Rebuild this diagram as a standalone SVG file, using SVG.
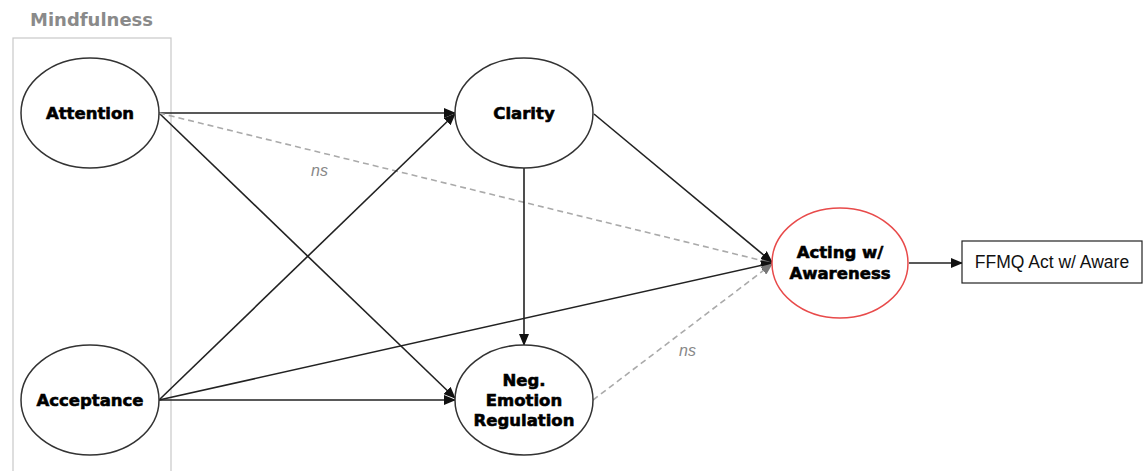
<svg xmlns="http://www.w3.org/2000/svg" width="1146" height="471" viewBox="0 0 1146 471">
  <style>
    .node ellipse { fill: #fff; stroke: #333; stroke-width: 1.5; }
    .label { font-family: "DejaVu Sans", Verdana, sans-serif; font-weight: bold; font-size: 16.5px; fill: #000; stroke: #000; stroke-width: 0.6; text-anchor: middle; }
    .path { stroke: #222; stroke-width: 1.6; fill: none; marker-end: url(#arrow); }
    .path.ns { stroke: #aaa; stroke-dasharray: 6 4; marker-end: url(#arrowGray); }
    .ns-label { font-family: "Liberation Sans", Arial, sans-serif; font-style: italic; font-size: 16px; fill: #888; }
  </style>
  <defs>
    <marker id="arrow" markerWidth="12" markerHeight="10" refX="11" refY="5" orient="auto" markerUnits="userSpaceOnUse">
      <path d="M0,0 L12,5 L0,10 z" fill="#111"/>
    </marker>
    <marker id="arrowGray" markerWidth="12" markerHeight="10" refX="11" refY="5" orient="auto" markerUnits="userSpaceOnUse">
      <path d="M0,0 L12,5 L0,10 z" fill="#777"/>
    </marker>
  </defs>

  <rect width="1146" height="471" fill="#fff"/>

  <!-- Mindfulness grouping frame -->
  <g id="mindfulness">
    <rect x="13" y="38" width="158" height="440" fill="none" stroke="#c8c8c8" stroke-width="1.2"/>
    <text x="30" y="26" font-family="DejaVu Sans, sans-serif" font-weight="bold" font-size="18" fill="#8a8a8a">Mindfulness</text>
  </g>

  <!-- Paths -->
  <g id="connectors">
    <line class="path" x1="159" y1="113" x2="455" y2="113"/>
    <line class="path" x1="159" y1="113" x2="455" y2="398"/>
    <line class="path ns" x1="159" y1="113" x2="772" y2="263"/>
    <line class="path" x1="159" y1="400" x2="455" y2="114"/>
    <line class="path" x1="159" y1="400" x2="455" y2="400"/>
    <line class="path" x1="159" y1="400" x2="772" y2="263"/>
    <line class="path" x1="594" y1="114" x2="772" y2="262"/>
    <line class="path" x1="524" y1="168" x2="524" y2="345"/>
    <line class="path ns" x1="593" y1="400" x2="772" y2="264"/>
    <line class="path" x1="909" y1="263" x2="962" y2="263"/>
    <text class="ns-label" x="311" y="176">ns</text>
    <text class="ns-label" x="679" y="356">ns</text>
  </g>

  <g id="attention" class="node">
    <ellipse cx="90" cy="113" rx="69" ry="55"/>
    <text class="label" x="90" y="119">Attention</text>
  </g>

  <g id="acceptance" class="node">
    <ellipse cx="90" cy="400" rx="69" ry="55"/>
    <text class="label" x="90" y="406" font-size="17">Acceptance</text>
  </g>

  <g id="clarity" class="node">
    <ellipse cx="524" cy="113" rx="69" ry="55"/>
    <text class="label" x="524" y="119">Clarity</text>
  </g>

  <g id="neg-emotion-regulation" class="node">
    <ellipse cx="524" cy="400" rx="69" ry="55"/>
    <text class="label" x="524" y="386">Neg.</text>
    <text class="label" x="524" y="406">Emotion</text>
    <text class="label" x="524" y="426">Regulation</text>
  </g>

  <g id="acting-awareness" class="node">
    <ellipse cx="840" cy="263" rx="68" ry="55" style="stroke:#e84a4a"/>
    <text class="label" x="840" y="258">Acting w/</text>
    <text class="label" x="840" y="279">Awareness</text>
  </g>

  <g id="ffmq-act-aware">
    <rect x="962" y="241" width="180" height="42" fill="#fff" stroke="#222" stroke-width="1.2"/>
    <text x="1052" y="268" font-family="Liberation Sans, Arial, sans-serif" font-size="17.5" fill="#111" text-anchor="middle">FFMQ Act w/ Aware</text>
  </g>
</svg>
